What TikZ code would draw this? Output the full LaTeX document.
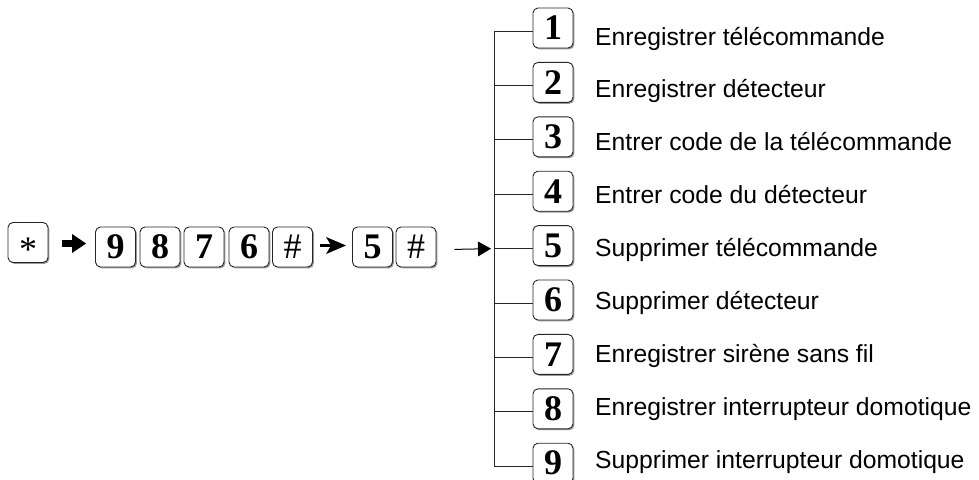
\documentclass[tikz,border=0pt]{standalone}
\usepackage{fontspec}
\setmainfont{Liberation Sans}
\newfontfamily\keyfont{Liberation Serif}
\usetikzlibrary{shadows,arrows.meta,calc}
\begin{document}
\begin{tikzpicture}[x=1pt,y=-1pt,
  keybox/.style={draw=black!85, line width=0.9pt, rounded corners=5pt,
    minimum width=40pt, minimum height=40pt, inner sep=0pt, fill=white,
    drop shadow={shadow xshift=1.4pt, shadow yshift=-1.4pt, fill=black!40, opacity=1},
    font=\keyfont\bfseries\fontsize{36}{36}\selectfont},
  symbox/.style={keybox, font=\keyfont\fontsize{36}{36}\selectfont},
  itemtext/.style={anchor=base west, inner sep=0pt, font=\fontsize{24.7}{30}\selectfont},
  trunk/.style={draw=black!85, line width=1pt},
]
\useasboundingbox (0,0) rectangle (979,479);

% right column keys, ticks
\foreach \i in {1,...,9} {
  \pgfmathsetmacro\yc{28+54.4*(\i-1)}
  \node[keybox] (r\i) at (553,\yc) {\i};
  \coordinate (t\i) at (494,\yc+3);
  \draw[trunk] (t\i) -- (t\i -| r\i.west);
}
\draw[trunk] (t1) -- (t9);

% labels
\foreach \i/\txt in {1/Enregistrer télécommande, 2/Enregistrer détecteur,
  3/Entrer code de la télécommande, 4/Entrer code du détecteur,
  5/Supprimer télécommande, 6/Supprimer détecteur,
  7/Enregistrer sirène sans fil, 8/Enregistrer interrupteur domotique,
  9/Supprimer interrupteur domotique} {
  \node[itemtext] (l\i) at (595,{45+52.9*(\i-1)}) {\txt};
}

% main row
\node[symbox] (star) at (28,242.5) {\smash{\raisebox{-19pt}{*}}};
\node[keybox] (k9) at (115.5,247) {9};
\node[keybox] (k8) at (160,247) {8};
\node[keybox] (k7) at (204,247) {7};
\node[keybox] (k6) at (249,247) {6};
\node[symbox] (h1) at (292.5,247) {\#};
\node[keybox] (k5) at (372.5,247) {5};
\node[symbox] (h2) at (416,247) {\#};

\draw[line width=7pt, -{Triangle[length=14pt,width=19pt,line width=0pt]}]
  ($(star.east)+(14,1)$) -- ($(k9.west)+(-9,-3.5)$);
\draw[line width=2.5pt, -{Stealth[length=20pt,width=17pt,inset=5pt,line width=0pt]}]
  ($(h1.east)+(7,-1.5)$) -- ($(k5.west)+(-6,-1.5)$);
\draw[line width=1pt, -{Triangle[length=13pt,width=15pt,line width=0pt]}, shorten >=3pt]
  ($(h2.east)+(18,2.4)$) -- (t5);
\end{tikzpicture}
\end{document}
